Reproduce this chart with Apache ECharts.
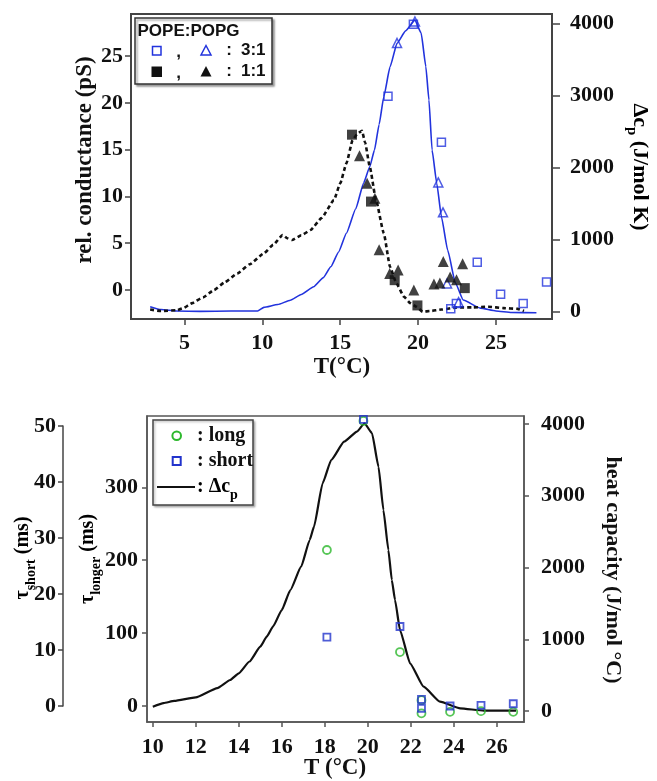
<!DOCTYPE html>
<html><head><meta charset="utf-8">
<script src="https://cdn.jsdelivr.net/npm/echarts@6/dist/echarts.min.js"></script>
<style>html,body{margin:0;padding:0;background:#fff}#c{width:657px;height:781px}</style>
</head><body><div id="c"></div>
<script>
// ---------- Top panel ----------
// Δcp curves (right axis, J/mol K), [T, value]
const topCp31 = [[2.8,70],[3.5,30],[4.5,10],[6,5],[8,10],[9.7,10],[10.1,60],[11,100],[11.8,160],[12.5,240],[13.3,347],[13.9,470],[14.4,625],[14.9,830],[15.4,1090],[16,1430],[16.5,1785],[16.9,2014],[17.2,2245],[17.5,2600],[17.8,2986],[18.2,3400],[18.65,3728],[19.2,3900],[19.8,4050],[20.2,3870],[20.5,3403],[20.7,2940],[20.9,2245],[21.2,1785],[21.5,1320],[21.9,857],[22.4,398],[22.9,162],[24.0,50],[25,10],[26,-10],[27.6,-15]];
const topCp11 = [[2.8,30],[3.5,10],[4.5,20],[4.9,47],[5.5,120],[6.2,200],[6.9,300],[7.6,410],[8.4,533],[9.2,660],[10.1,811],[10.7,930],[11.3,1065],[11.6,1020],[11.9,996],[12.5,1060],[13.1,1135],[13.8,1300],[14.6,1551],[15.0,1780],[15.4,2061],[15.8,2385],[16.1,2470],[16.4,2514],[16.6,2350],[16.9,2014],[17.3,1551],[17.8,1090],[18.2,625],[18.6,400],[19.1,208],[19.5,120],[19.9,70],[20.3,0],[20.8,10],[21.5,30],[22.5,60],[23.5,60],[24.5,70],[25.5,50],[26.4,40],[26.8,10]];
// conductance markers (left axis, pS)
const sq31 = [[18.07,20.7],[19.7,28.4],[21.5,15.8],[22.1,-2.0],[22.46,-1.43],[23.8,2.96],[25.3,-0.46],[26.75,-1.43],[28.25,0.85]];
const tri31 = [[18.65,26.4],[19.8,28.7],[21.3,11.5],[21.6,8.3],[21.86,0.7],[22.6,-1.3]];
const sq11 = [[15.76,16.6],[16.98,9.45],[18.5,1.05],[19.96,-1.65],[23.0,0.2]];
const tri11 = [[16.24,14.35],[16.73,11.4],[17.23,9.8],[17.5,4.3],[18.18,1.75],[18.72,2.15],[19.73,0],[21.02,0.65],[21.4,0.75],[21.62,3.05],[22.06,1.4],[22.47,1.1],[22.86,2.8]];
const topXTicks = [5,10,15,20,25];
const topLeftTicks = [0,5,10,15,20,25];
const topRightTicks = [0,1000,2000,3000,4000];

// ---------- Bottom panel ----------
const botCp = [[10.0,60],[10.5,110],[11,140],[12,190],[13,320],[13.6,432],[14,525],[14.5,690],[15,896],[15.3,1036],[15.6,1180],[16,1408],[16.4,1686],[16.9,2011],[17.3,2383],[17.5,2569],[17.9,3174],[18.3,3498],[18.9,3753],[19.5,3893],[19.85,4010],[20.2,3870],[20.5,3405],[20.73,2801],[20.96,2244],[21.12,1826],[21.27,1547],[21.5,1129],[21.97,665],[22.6,339],[23.36,130],[24.3,37],[25.4,5],[26.9,5]];
const tauLong = [[18.1,214],[19.8,391],[21.5,74],[22.5,8],[22.5,-10],[23.83,-8],[25.27,-7],[26.77,-8]];
const tauShort = [[18.1,12.3],[19.8,51.2],[21.5,14.2],[22.5,1.2],[22.5,-0.4],[23.83,0],[25.27,0.1],[26.77,0.4]];
const botXTicks = [10,12,14,16,18,20,22,24,26];
const tauLongTicks = [0,100,200,300];
const heatTicks = [0,1000,2000,3000,4000];
const tauShortTicks = [0,10,20,30,40,50];

const SERIF = 'Liberation Serif';
const BLUE = '#2233dd';
const GREEN = '#2db82d';
const plain = v => String(v);
const lbl = (extra) => Object.assign({fontFamily: SERIF, fontWeight: 'bold', fontSize: 22, color: '#111', formatter: plain}, extra);

const chart = echarts.init(document.getElementById('c'));
const subRich = (size) => ({
  a: {fontFamily: SERIF, fontWeight: 'bold', fontSize: size, color: '#111', verticalAlign: 'top', lineHeight: size},
  s: {fontFamily: SERIF, fontWeight: 'bold', fontSize: Math.round(size*0.68), color: '#111', verticalAlign: 'top', lineHeight: Math.round(size*0.68), padding: [Math.round(size*0.55),0,0,0]}
});
const lineCommon = {showSymbol: false, smooth: 0.15, smoothMonotone: 'x'};

chart.setOption({
  animation: false,
  backgroundColor: '#fff',
  grid: [
    {left: 131, top: 14, width: 421, height: 305, show: true, borderColor: '#444', borderWidth: 2, backgroundColor: '#fff'},
    {left: 147, top: 416, width: 377, height: 306, show: true, borderColor: '#555', borderWidth: 1.5, backgroundColor: '#fff'},
    {left: 147, top: 426, width: 377, height: 280, show: false}
  ],
  xAxis: [
    {gridIndex: 0, type: 'value', min: 1.57, max: 28.6, splitLine: {show: false},
      axisLine: {onZero: false, lineStyle: {color: '#444', width: 2}},
      axisTick: {customValues: topXTicks, length: 6, lineStyle: {color: '#444', width: 1.5}},
      axisLabel: lbl({customValues: topXTicks, margin: 13})},
    {gridIndex: 1, type: 'value', min: 9.73, max: 27.27, splitLine: {show: false},
      axisLine: {onZero: false, lineStyle: {color: '#555', width: 1.5}},
      axisTick: {customValues: botXTicks, length: 5, lineStyle: {color: '#555', width: 1.5}},
      axisLabel: lbl({customValues: botXTicks, margin: 14})},
    {gridIndex: 2, type: 'value', min: 9.73, max: 27.27, show: false}
  ],
  yAxis: [
    {gridIndex: 0, type: 'value', position: 'left', min: -3.1, max: 29.5, splitLine: {show: false},
      axisLine: {show: true, onZero: false, lineStyle: {color: '#444', width: 2}},
      axisTick: {customValues: topLeftTicks, length: 6, lineStyle: {color: '#444', width: 1.5}},
      axisLabel: lbl({customValues: topLeftTicks, margin: 8})},
    {gridIndex: 0, type: 'value', position: 'right', min: -101, max: 4135, splitLine: {show: false},
      axisLine: {show: true, onZero: false, lineStyle: {color: '#444', width: 2}},
      axisTick: {customValues: topRightTicks, length: 8, lineStyle: {color: '#444', width: 1.5}},
      axisLabel: lbl({customValues: topRightTicks, margin: 18})},
    {gridIndex: 1, type: 'value', position: 'left', min: -21.9, max: 397.8, splitLine: {show: false},
      axisLine: {show: true, onZero: false, lineStyle: {color: '#555', width: 1.5}},
      axisTick: {customValues: tauLongTicks, length: 5, lineStyle: {color: '#555', width: 1.5}},
      axisLabel: lbl({customValues: tauLongTicks, margin: 9})},
    {gridIndex: 1, type: 'value', position: 'right', min: -153, max: 4111, splitLine: {show: false},
      axisLine: {show: true, onZero: false, lineStyle: {color: '#555', width: 1.5}},
      axisTick: {customValues: heatTicks, length: 5, lineStyle: {color: '#555', width: 1.5}},
      axisLabel: lbl({customValues: heatTicks, margin: 17})},
    {gridIndex: 2, type: 'value', position: 'left', offset: 84, min: 0, max: 50, interval: 10, splitLine: {show: false},
      axisLine: {show: true, onZero: false, lineStyle: {color: '#444', width: 1.5}},
      axisTick: {customValues: tauShortTicks, length: 5, lineStyle: {color: '#444', width: 1.5}},
      axisLabel: lbl({customValues: tauShortTicks, margin: 7})}
  ],
  series: [
    Object.assign({name: 'Δcp 3:1', type: 'line', xAxisIndex: 0, yAxisIndex: 1, data: topCp31,
      lineStyle: {color: BLUE, width: 1.6}, z: 2}, lineCommon),
    Object.assign({name: 'Δcp 1:1', type: 'line', xAxisIndex: 0, yAxisIndex: 1, data: topCp11,
      lineStyle: {color: '#111', width: 2.6, type: [4, 3]}, z: 3}, lineCommon),
    {name: '3:1 □', type: 'scatter', xAxisIndex: 0, yAxisIndex: 0, data: sq31, symbol: 'rect', symbolSize: 8, clip: false,
      itemStyle: {color: 'rgba(255,255,255,0)', borderColor: BLUE, borderWidth: 1.5}, z: 5},
    {name: '3:1 △', type: 'scatter', xAxisIndex: 0, yAxisIndex: 0, data: tri31, symbol: 'triangle', symbolSize: 9, clip: false,
      itemStyle: {color: 'rgba(255,255,255,0)', borderColor: BLUE, borderWidth: 1.5}, z: 5},
    {name: '1:1 ■', type: 'scatter', xAxisIndex: 0, yAxisIndex: 0, data: sq11, symbol: 'rect', symbolSize: 10, clip: false,
      itemStyle: {color: '#111'}, z: 6},
    {name: '1:1 ▲', type: 'scatter', xAxisIndex: 0, yAxisIndex: 0, data: tri11, symbol: 'triangle', symbolSize: 11, clip: false,
      itemStyle: {color: '#111'}, z: 6},
    Object.assign({name: 'Δcp', type: 'line', xAxisIndex: 1, yAxisIndex: 3, data: botCp,
      lineStyle: {color: '#111', width: 2.2}, z: 2}, lineCommon),
    {name: 'long', type: 'scatter', xAxisIndex: 1, yAxisIndex: 2, data: tauLong, symbol: 'circle', symbolSize: 8, clip: false,
      itemStyle: {color: 'rgba(255,255,255,0)', borderColor: GREEN, borderWidth: 1.8}, z: 5},
    {name: 'short', type: 'scatter', xAxisIndex: 2, yAxisIndex: 4, data: tauShort, symbol: 'rect', symbolSize: 7, clip: false,
      itemStyle: {color: 'rgba(255,255,255,0)', borderColor: '#2233cc', borderWidth: 1.8}, z: 6}
  ],
  graphic: [
    // axis titles
    {type: 'text', x: 85, y: 160, rotation: Math.PI/2, z: 10,
      style: {text: 'rel. conductance (pS)', font: 'bold 23px "Liberation Serif"', fill: '#111', align: 'center', verticalAlign: 'middle'}},
    {type: 'text', x: 342, y: 367, z: 10,
      style: {text: 'T(°C)', font: 'bold 23px "Liberation Serif"', fill: '#111', align: 'center', verticalAlign: 'middle'}},
    {type: 'text', x: 640, y: 167, rotation: -Math.PI/2, z: 10,
      style: {text: '{a|Δc}{s|p}{a| (J/mol K)}', rich: subRich(22), align: 'center', verticalAlign: 'middle'}},
    {type: 'text', x: 23, y: 558, rotation: Math.PI/2, z: 10,
      style: {text: '{a|τ}{s|short}{a| (ms)}', rich: subRich(20), align: 'center', verticalAlign: 'middle'}},
    {type: 'text', x: 88, y: 559, rotation: Math.PI/2, z: 10,
      style: {text: '{a|τ}{s|longer}{a| (ms)}', rich: subRich(20), align: 'center', verticalAlign: 'middle'}},
    {type: 'text', x: 613, y: 570, rotation: -Math.PI/2, z: 10,
      style: {text: 'heat capacity (J/mol °C)', font: 'bold 22px "Liberation Serif"', fill: '#111', align: 'center', verticalAlign: 'middle'}},
    {type: 'text', x: 335, y: 768, z: 10,
      style: {text: 'T (°C)', font: 'bold 23px "Liberation Serif"', fill: '#111', align: 'center', verticalAlign: 'middle'}},
    // top legend
    {type: 'rect', z: 20, shape: {x: 135, y: 18, width: 137, height: 66},
      style: {fill: '#fff', stroke: '#333', lineWidth: 1.5, shadowColor: 'rgba(0,0,0,0.35)', shadowOffsetX: 2, shadowOffsetY: 2, shadowBlur: 2}},
    {type: 'text', z: 21, x: 137.5, y: 31, style: {text: 'POPE:POPG', font: 'bold 17px "Liberation Sans"', fill: '#111', verticalAlign: 'middle'}},
    {type: 'rect', z: 21, shape: {x: 152.5, y: 46.5, width: 8.5, height: 8.5}, style: {fill: 'none', stroke: BLUE, lineWidth: 1.5}},
    {type: 'text', z: 21, x: 178.5, y: 52, style: {text: ',', font: 'bold 17px "Liberation Sans"', fill: '#111', align: 'center', verticalAlign: 'middle'}},
    {type: 'polygon', z: 21, shape: {points: [[206, 45.5], [211, 55], [201, 55]]}, style: {fill: 'none', stroke: BLUE, lineWidth: 1.5}},
    {type: 'text', z: 21, x: 229, y: 50.7, style: {text: ':', font: 'bold 17px "Liberation Sans"', fill: '#111', align: 'center', verticalAlign: 'middle'}},
    {type: 'text', z: 21, x: 241, y: 50.7, style: {text: '3:1', font: 'bold 17px "Liberation Sans"', fill: '#111', verticalAlign: 'middle'}},
    {type: 'rect', z: 21, shape: {x: 151.5, y: 66.5, width: 10.5, height: 10.5}, style: {fill: '#111'}},
    {type: 'text', z: 21, x: 178.5, y: 73, style: {text: ',', font: 'bold 17px "Liberation Sans"', fill: '#111', align: 'center', verticalAlign: 'middle'}},
    {type: 'polygon', z: 21, shape: {points: [[206, 66], [211.5, 76.5], [200.5, 76.5]]}, style: {fill: '#111'}},
    {type: 'text', z: 21, x: 229, y: 71.7, style: {text: ':', font: 'bold 17px "Liberation Sans"', fill: '#111', align: 'center', verticalAlign: 'middle'}},
    {type: 'text', z: 21, x: 241, y: 71.7, style: {text: '1:1', font: 'bold 17px "Liberation Sans"', fill: '#111', verticalAlign: 'middle'}},
    // bottom legend
    {type: 'rect', z: 20, shape: {x: 153, y: 420, width: 100, height: 85},
      style: {fill: '#fff', stroke: '#444', lineWidth: 1.5, shadowColor: 'rgba(0,0,0,0.25)', shadowOffsetX: 1.5, shadowOffsetY: 1.5, shadowBlur: 2}},
    {type: 'circle', z: 21, shape: {cx: 176.7, cy: 435.7, r: 4.3}, style: {fill: 'none', stroke: GREEN, lineWidth: 2}},
    {type: 'text', z: 21, x: 197, y: 435.7, style: {text: ': long', font: 'bold 20px "Liberation Serif"', fill: '#111', verticalAlign: 'middle'}},
    {type: 'rect', z: 21, shape: {x: 172.7, y: 457, width: 8, height: 8}, style: {fill: 'none', stroke: '#2233cc', lineWidth: 2}},
    {type: 'text', z: 21, x: 197, y: 461, style: {text: ': short', font: 'bold 20px "Liberation Serif"', fill: '#111', verticalAlign: 'middle'}},
    {type: 'line', z: 21, shape: {x1: 157, y1: 487, x2: 195, y2: 487}, style: {stroke: '#111', lineWidth: 1.8}},
    {type: 'text', z: 21, x: 197, y: 487, style: {text: '{a|: Δc}{s|p}', rich: subRich(20), verticalAlign: 'middle'}}
  ]
});
</script>
</body></html>
